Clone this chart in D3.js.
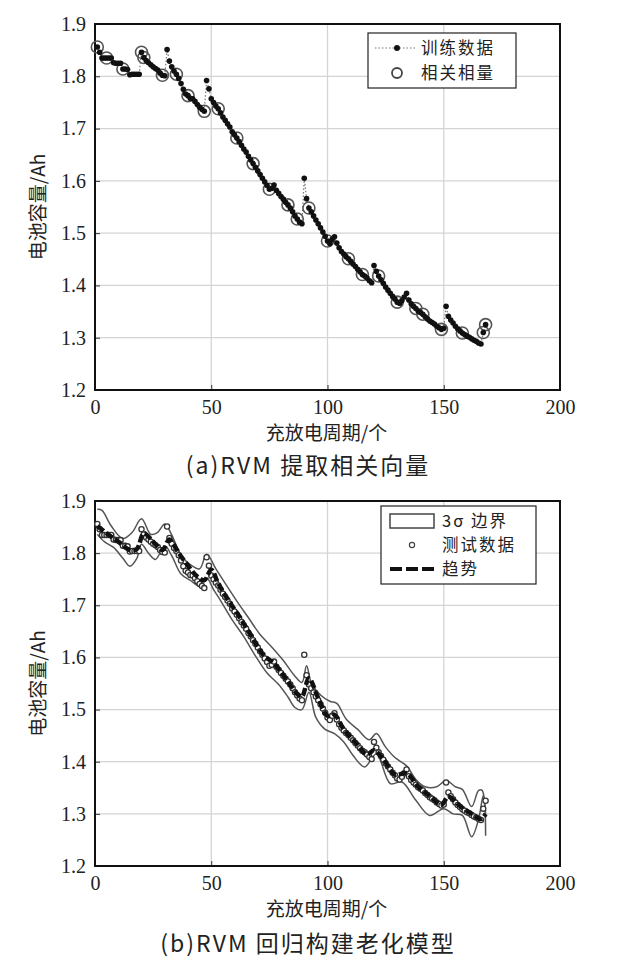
<!DOCTYPE html>
<html><head><meta charset="utf-8">
<script src="https://cdn.jsdelivr.net/npm/d3@7"></script>
<style>
html,body{margin:0;padding:0;background:#fff;}
svg{display:block;}
.num{font-family:"Liberation Serif","DejaVu Serif",serif;}
.cjk{font-family:"Noto Sans CJK SC","Noto Sans",sans-serif;}
</style></head>
<body>
<svg id="c" width="620" height="965"></svg>
<script>
// ---- data ----
const capacity = [
1.856,1.846,1.835,1.835,1.835,1.835,1.835,1.826,1.825,1.825,
1.825,1.814,1.814,1.813,1.803,1.804,1.804,1.804,1.804,1.846,
1.836,1.830,1.826,1.822,1.818,1.815,1.812,1.806,1.802,1.801,
1.851,1.829,1.818,1.810,1.804,1.796,1.786,1.775,1.766,1.763,
1.758,1.757,1.752,1.746,1.741,1.737,1.733,1.792,1.776,1.757,
1.750,1.743,1.738,1.730,1.722,1.716,1.709,1.703,1.694,1.688,
1.682,1.675,1.668,1.661,1.655,1.647,1.640,1.633,1.626,1.619,
1.612,1.605,1.598,1.591,1.584,1.586,1.592,1.582,1.576,1.570,
1.565,1.559,1.554,1.548,1.541,1.533,1.527,1.521,1.518,1.605,
1.566,1.548,1.541,1.533,1.525,1.518,1.510,1.502,1.494,1.485,
1.480,1.488,1.493,1.481,1.472,1.465,1.460,1.455,1.451,1.446,
1.441,1.436,1.431,1.426,1.421,1.418,1.414,1.409,1.405,1.438,
1.427,1.418,1.411,1.404,1.397,1.391,1.385,1.379,1.374,1.368,
1.366,1.371,1.378,1.385,1.372,1.365,1.360,1.356,1.351,1.348,
1.345,1.340,1.336,1.332,1.329,1.326,1.322,1.319,1.316,1.318,
1.360,1.341,1.334,1.328,1.322,1.317,1.313,1.309,1.306,1.303,
1.301,1.298,1.295,1.293,1.290,1.288,1.310,1.325];
const relevanceCycles = [1,5,12,20,21,29,35,40,47,53,61,68,75,83,87,92,100,109,115,122,130,138,141,149,158,167,168];

const trendCycles = [1,5,10,15,18,21,25,29,32,36,40,44,47,50,53,57,62,67,72,77,82,87,89,92,96,100,103,107,112,117,120,124,129,134,139,144,149,152,157,162,166,168];
const trendVals   = [1.852,1.838,1.822,1.806,1.808,1.838,1.822,1.806,1.826,1.800,1.776,1.755,1.748,1.768,1.742,1.712,1.679,1.643,1.607,1.588,1.560,1.530,1.525,1.560,1.522,1.488,1.490,1.462,1.437,1.414,1.422,1.405,1.375,1.378,1.352,1.334,1.318,1.333,1.315,1.300,1.290,1.300];

const upperCycles = [1,3,7,12,16,20,24,27,30,33,37,41,45,48,52,56,61,66,71,76,81,86,89,91,93,97,101,104,108,113,118,121,125,129,134,138,142,147,151,155,158,162,165,166.5,168];
const upperVals   = [1.884,1.882,1.852,1.828,1.840,1.866,1.836,1.840,1.856,1.835,1.796,1.778,1.770,1.798,1.770,1.742,1.708,1.676,1.644,1.620,1.594,1.564,1.552,1.584,1.552,1.528,1.516,1.512,1.482,1.462,1.442,1.454,1.428,1.408,1.392,1.366,1.352,1.352,1.364,1.352,1.347,1.314,1.345,1.345,1.258];

const lowerCycles = [1,4,8,12,15,18,20,23,26,30,33,37,41,45,48,51,54,59,64,69,74,79,83,86,89,92,95,99,103,107,111,116,121,127,132,138,144,150,154,158,162,165,167,168];
const lowerVals   = [1.836,1.822,1.811,1.790,1.775,1.790,1.817,1.800,1.788,1.814,1.795,1.760,1.748,1.737,1.753,1.730,1.709,1.672,1.640,1.603,1.570,1.548,1.524,1.504,1.500,1.533,1.485,1.462,1.454,1.438,1.412,1.390,1.415,1.358,1.361,1.326,1.297,1.310,1.300,1.297,1.256,1.290,1.335,1.300];

const xTicks = [0,50,100,150,200];
const yTicks = [1.2,1.3,1.4,1.5,1.6,1.7,1.8,1.9];
const xTitle = "充放电周期/个";
const yTitle = "电池容量/Ah";
const captionA = "(a)RVM 提取相关向量";
const captionB = "(b)RVM 回归构建老化模型";
const legendA = ["训练数据","相关相量"];
const legendB = ["3σ 边界","测试数据","趋势"];

// ---- drawing ----
const svg = d3.select("#c");
const dataPts = capacity.map((v,i)=>({c:i+1,v}));

function frame(top,bottom){
  const left=95,right=560;
  const x=d3.scaleLinear().domain([0,200]).range([left,right]);
  const y=d3.scaleLinear().domain([1.2,1.9]).range([bottom,top]);
  const g=svg.append("g");
  g.selectAll(".gx").data(xTicks.slice(1,-1)).enter().append("line")
   .attr("x1",d=>x(d)).attr("x2",d=>x(d)).attr("y1",top).attr("y2",bottom)
   .attr("stroke","#d4d4d4").attr("stroke-width",1.3);
  g.selectAll(".gy").data(yTicks.slice(1,-1)).enter().append("line")
   .attr("y1",d=>y(d)).attr("y2",d=>y(d)).attr("x1",left).attr("x2",right)
   .attr("stroke","#d4d4d4").attr("stroke-width",1.3);
  const ax=d3.axisBottom(x).tickValues(xTicks).tickSize(-5).tickPadding(10).tickFormat(d3.format("d"));
  const gx=g.append("g").attr("transform",`translate(0,${bottom})`).call(ax);
  const ay=d3.axisLeft(y).tickValues(yTicks).tickSize(-5).tickPadding(9).tickFormat(d3.format(".1f"));
  const gy=g.append("g").attr("transform",`translate(${left},0)`).call(ay);
  [gx,gy].forEach(a=>{
    a.select(".domain").remove();
    a.selectAll("text").attr("class","num").style("font-size","20px").attr("fill","#222");
    a.selectAll(".tick line").attr("stroke","#333");
  });
  gx.selectAll("text").attr("dy","0.71em");
  g.append("rect").attr("x",left).attr("y",top).attr("width",right-left).attr("height",bottom-top)
   .attr("fill","none").attr("stroke","#111").attr("stroke-width",2);
  g.append("text").attr("class","cjk").attr("x",(left+right)/2-1).attr("y",bottom+50)
   .attr("text-anchor","middle").style("font-size","19px").attr("fill","#222").text(xTitle);
  g.append("text").attr("class","cjk").attr("transform",`translate(45,${(top+bottom)/2}) rotate(-90)`)
   .attr("text-anchor","middle").style("font-size","19px").attr("fill","#222").text(yTitle);
  return {x,y,g,left,right,top,bottom};
}

// ---- chart (a) ----
const A=frame(24,390);
const lineA=d3.line().x(d=>A.x(d.c)).y(d=>A.y(d.v));
A.g.append("path").datum(dataPts).attr("d",lineA).attr("fill","none")
  .attr("stroke","#777").attr("stroke-width",1.2).attr("stroke-dasharray","1.5,2");
A.g.selectAll(".rv").data(relevanceCycles).enter().append("circle")
  .attr("cx",d=>A.x(d)).attr("cy",d=>A.y(capacity[d-1])).attr("r",6)
  .attr("fill","none").attr("stroke","#555").attr("stroke-width",1.6);
A.g.selectAll(".pt").data(dataPts).enter().append("circle")
  .attr("cx",d=>A.x(d.c)).attr("cy",d=>A.y(d.v)).attr("r",2.8).attr("fill","#111");
const la=A.g.append("g");
la.append("rect").attr("x",368).attr("y",33).attr("width",148).attr("height",55)
  .attr("fill","#fff").attr("stroke","#222").attr("stroke-width",1.2);
la.append("line").attr("x1",375).attr("x2",417).attr("y1",48).attr("y2",48)
  .attr("stroke","#777").attr("stroke-width",1.2).attr("stroke-dasharray","1.5,2");
la.append("circle").attr("cx",397).attr("cy",48).attr("r",3).attr("fill","#111");
la.append("circle").attr("cx",397).attr("cy",73).attr("r",5).attr("fill","none").attr("stroke","#444").attr("stroke-width",1.8);
la.selectAll(".lt").data(legendA).enter().append("text").attr("class","cjk")
  .attr("x",421).attr("y",(d,i)=>48+i*25).attr("dy","0.35em").style("font-size","16.5px").style("letter-spacing","2px").attr("fill","#222").text(d=>d);
svg.append("text").attr("class","cjk").attr("x",308).attr("y",466).attr("dy","0.35em")
  .attr("text-anchor","middle").style("font-size","23px").style("letter-spacing","2px").attr("fill","#222").text(captionA);

// ---- chart (b) ----
const B=frame(501,866);
const curve=d3.line().curve(d3.curveCatmullRom).x(d=>B.x(d[0])).y(d=>B.y(d[1]));
B.g.append("path").datum(upperCycles.map((c,i)=>[c,upperVals[i]])).attr("d",curve)
  .attr("fill","none").attr("stroke","#555").attr("stroke-width",1.5);
B.g.append("path").datum(lowerCycles.map((c,i)=>[c,lowerVals[i]])).attr("d",curve)
  .attr("fill","none").attr("stroke","#555").attr("stroke-width",1.5);
B.g.selectAll(".tp").data(dataPts).enter().append("circle")
  .attr("cx",d=>B.x(d.c)).attr("cy",d=>B.y(d.v)).attr("r",2.6)
  .attr("fill","#fff").attr("stroke","#333").attr("stroke-width",1.3);
B.g.append("path").datum(trendCycles.map((c,i)=>[c,trendVals[i]])).attr("d",curve)
  .attr("fill","none").attr("stroke","#111").attr("stroke-width",4.5).attr("stroke-dasharray","8,3");
const lb=B.g.append("g");
lb.append("rect").attr("x",381).attr("y",506).attr("width",155).attr("height",78)
  .attr("fill","#fff").attr("stroke","#222").attr("stroke-width",1.2);
lb.append("rect").attr("x",390).attr("y",514).attr("width",44).attr("height",14)
  .attr("fill","none").attr("stroke","#444").attr("stroke-width",1.5);
lb.append("circle").attr("cx",412).attr("cy",545).attr("r",2.6).attr("fill","#fff").attr("stroke","#444").attr("stroke-width",1.2);
lb.append("line").attr("x1",390).attr("x2",434).attr("y1",569).attr("y2",569)
  .attr("stroke","#111").attr("stroke-width",4).attr("stroke-dasharray","12,4");
lb.selectAll(".lt").data(legendB).enter().append("text").attr("class","cjk")
  .attr("x",442).attr("y",(d,i)=>521+i*24).attr("dy","0.35em").style("font-size","16.5px").style("letter-spacing","2px").attr("fill","#222").text(d=>d);
svg.append("text").attr("class","cjk").attr("x",308).attr("y",944).attr("dy","0.35em")
  .attr("text-anchor","middle").style("font-size","23px").style("letter-spacing","2px").attr("fill","#222").text(captionB);
</script>
</body></html>
